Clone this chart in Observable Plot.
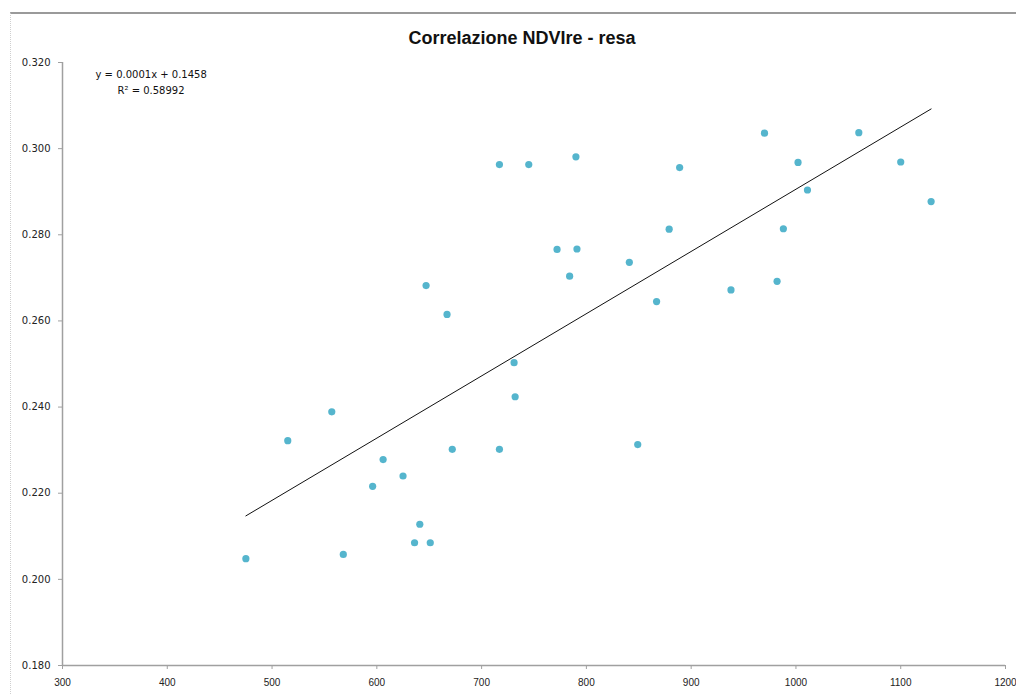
<!DOCTYPE html>
<html>
<head>
<meta charset="utf-8">
<script src="https://cdn.jsdelivr.net/npm/d3@7"></script>
<script src="https://cdn.jsdelivr.net/npm/@observablehq/plot@0.6"></script>
<style>
  html, body { margin: 0; padding: 0; background: #fff; }
  #wrap { position: relative; width: 1016px; height: 695px; overflow: hidden; }
  #border { position: absolute; left: 10px; top: 12px; right: -5px; bottom: -5px;
            border-top: 2px solid #9a9a9a; border-left: 1px dotted #cfcfcf; pointer-events: none; }
  #chart { position: absolute; left: 0; top: 0; }
</style>
</head>
<body>
<div id="wrap"><div id="chart"></div><div id="border"></div></div>
<script>
// Data
const titleText = "Correlazione NDVIre - resa";
const equationLines = ["y = 0.0001x + 0.1458", "R² = 0.58992"];

const resa = [
  475, 515, 557, 568, 596, 606, 625, 641, 636, 651,
  672, 717, 732, 731, 647, 667, 717, 745, 790, 889,
  970, 1060, 1002, 1011, 772, 791, 784, 879, 841, 867,
  938, 982, 988, 1100, 1129, 849
];
const ndvire = [
  0.2048, 0.2322, 0.2389, 0.2058, 0.2216, 0.2278, 0.2240, 0.2128, 0.2085, 0.2085,
  0.2302, 0.2302, 0.2424, 0.2503, 0.2682, 0.2615, 0.2963, 0.2963, 0.2981, 0.2956,
  0.3036, 0.3037, 0.2968, 0.2904, 0.2766, 0.2767, 0.2704, 0.2813, 0.2736, 0.2645,
  0.2672, 0.2692, 0.2814, 0.2969, 0.2877, 0.2313
];

const xTicks = [300, 400, 500, 600, 700, 800, 900, 1000, 1100, 1200];
const yTicks = [0.18, 0.20, 0.22, 0.24, 0.26, 0.28, 0.30, 0.32];

const points = resa.map((r, i) => ({resa: r, ndvi: ndvire[i]}));

const chart = Plot.plot({
  width: 1016,
  height: 695,
  marginLeft: 62,
  marginRight: 11,
  marginTop: 62,
  marginBottom: 30,
  style: {fontFamily: "DejaVu Sans", fontSize: "10px", color: "#222", background: "transparent", overflow: "visible"},
  x: {domain: [300, 1200], label: null},
  y: {domain: [0.18, 0.32], label: null},
  marks: [
    Plot.axisX({ticks: xTicks, tickFormat: d => String(d), tickSize: 4, tickPadding: 9, stroke: "#a0a0a0", label: null,
      fontFamily: "Liberation Sans", fontSize: 10}),
    Plot.axisY({ticks: yTicks, tickFormat: d3.format(".3f"), tickSize: 4, tickPadding: 8, stroke: "#a0a0a0", label: null}),
    Plot.ruleX([300], {stroke: "#a0a0a0", strokeWidth: 1.5}),
    Plot.ruleY([0.18], {stroke: "#a0a0a0", strokeWidth: 1.5}),
    Plot.linearRegressionY(points, {x: "resa", y: "ndvi", stroke: "#111", strokeWidth: 1, ci: 0}),
    Plot.dot(points, {x: "resa", y: "ndvi", r: 3.6, fill: "#55b5cd", stroke: "none"}),
    Plot.text([titleText], {frameAnchor: "top", lineAnchor: "middle", dx: -12, dy: -24, fontSize: 18, fontWeight: "bold",
      fontFamily: "Liberation Sans", fill: "#111"}),
    Plot.text([equationLines[0]], {frameAnchor: "top-left", lineAnchor: "middle", textAnchor: "start", dx: 33, dy: 12,
      fontSize: 10, fill: "#111"}),
    Plot.text([equationLines[1]], {frameAnchor: "top-left", lineAnchor: "middle", textAnchor: "start", dx: 55, dy: 28,
      fontSize: 10, fill: "#111"})
  ]
});
document.getElementById("chart").appendChild(chart);
</script>
</body>
</html>
